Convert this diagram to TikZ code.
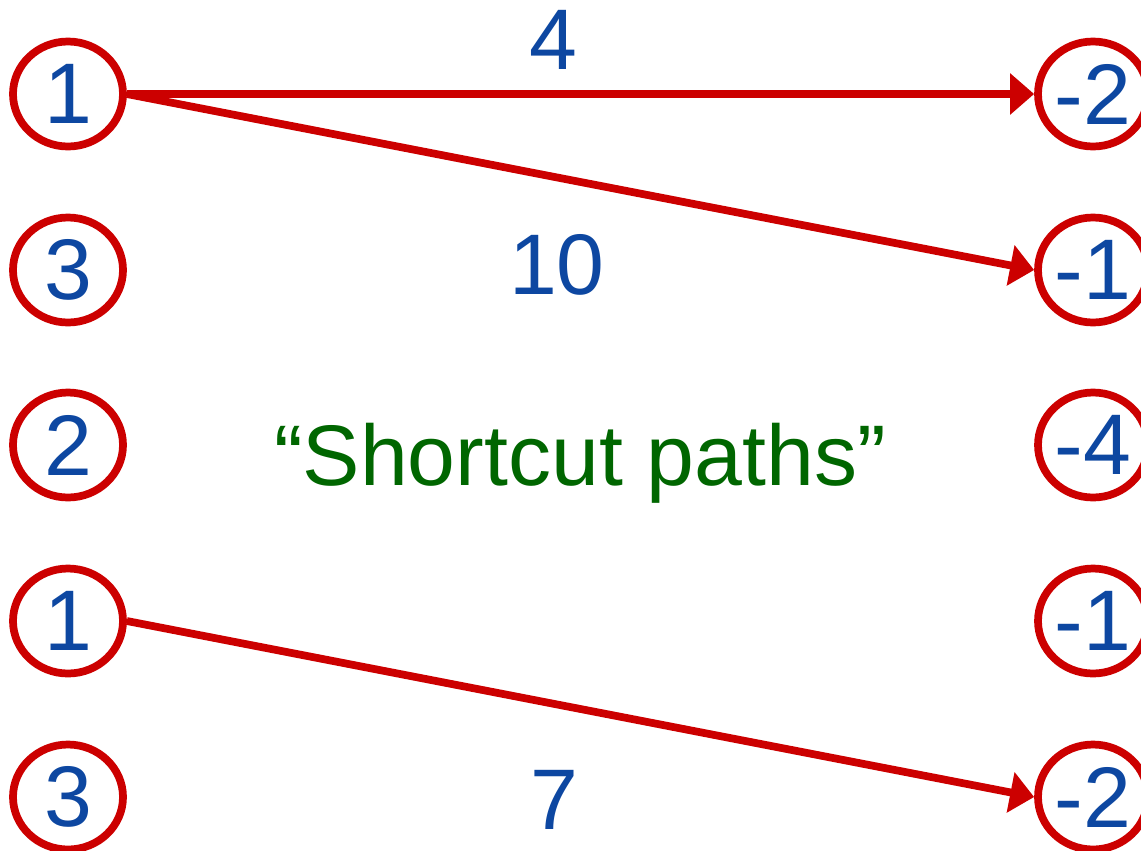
\documentclass[tikz,border=0pt]{standalone}
\usepackage{fontspec}
\setmainfont{Liberation Sans}
\usepackage{tikz}
\usetikzlibrary{arrows.meta,shapes.geometric}
\definecolor{numblue}{RGB}{13,71,161}
\definecolor{ringred}{RGB}{204,0,0}
\definecolor{capgreen}{RGB}{0,102,0}
\tikzset{
  ring/.style={ellipse, draw=ringred, line width=5.8pt, inner sep=0pt,
    minimum width=82.5pt, minimum height=78.75pt, text=numblue,
    font=\fontsize{64.5}{70}\selectfont},
  lnk/.style={-{Triangle[length=18pt,width=30pt]}, line width=5.8pt, ringred},
  wt/.style={text=numblue, font=\fontsize{64.5}{70}\selectfont},
}

\begin{document}
\begin{tikzpicture}[x=0.75pt,y=-0.75pt]
  \clip (0,0) rectangle (1141,850);
  % left column
  \node[ring] (a1) at (68,94) {1};
  \node[ring] (a2) at (68,270) {3};
  \node[ring] (a3) at (68,445) {2};
  \node[ring] (a4) at (68,621) {1};
  \node[ring] (a5) at (68,797) {3};
  % right column
  \node[ring] (b1) at (1093,94) {-2};
  \node[ring] (b2) at (1093,270) {-1};
  \node[ring] (b3) at (1093,445) {-4};
  \node[ring] (b4) at (1093,621) {-1};
  \node[ring] (b5) at (1093,797) {-2};
  % shortcut edges
  \draw[lnk] (a1.east) -- (b1.west);
  \draw[lnk] (a1.east) -- (b2.west);
  \draw[lnk] (a4.east) -- (b5.west);
  % weights
  \node[wt] (w1) at (553,40) {4};
  \node[wt] (w2) at (557,265) {10};
  \node[wt] (w3) at (554,800) {7};
  \node[wt, text=capgreen, anchor=base] (cap) at (580,485) {“Shortcut paths”};
\end{tikzpicture}
\end{document}
